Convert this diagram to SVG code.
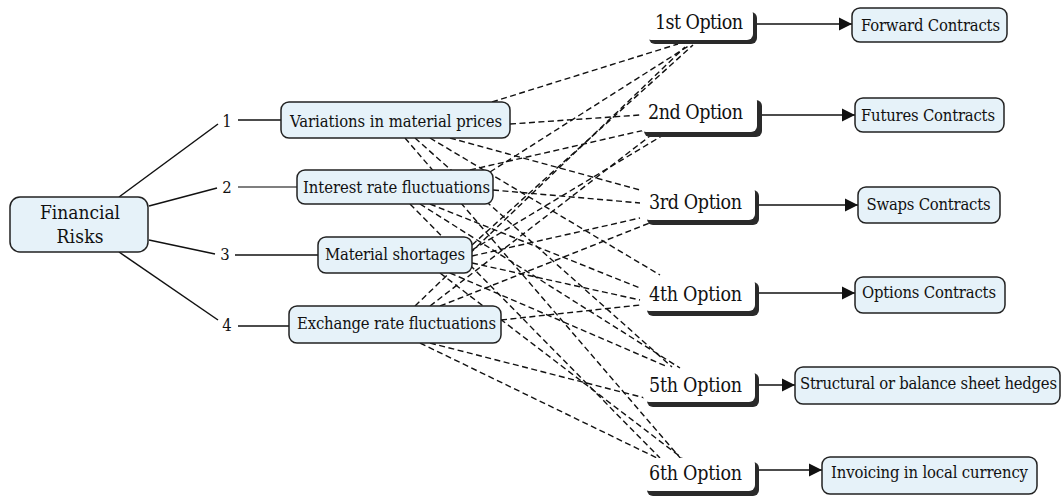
<svg xmlns="http://www.w3.org/2000/svg" width="1063" height="496" viewBox="0 0 1063 496">
<style>
.bx{fill:#e6f2f9;stroke:#222;stroke-width:1.5}
.t{font-family:"DejaVu Serif Condensed","DejaVu Serif",serif;font-stretch:condensed;font-size:16.5px;fill:#111;text-anchor:middle}
.ot{font-family:"DejaVu Serif Condensed","DejaVu Serif",serif;font-stretch:condensed;font-size:19.5px;fill:#111}
.num{font-family:"DejaVu Serif Condensed","DejaVu Serif",serif;font-stretch:condensed;font-size:16.5px;fill:#111;text-anchor:middle}
.sl{stroke:#111;stroke-width:1.5;fill:none}
.d{stroke:#111;stroke-width:1.4;stroke-dasharray:6 3.5;fill:none}
.ar{stroke:#111;stroke-width:1.5;fill:none;marker-end:url(#ah)}
.sh{fill:#2a2a2a}
.wb{fill:#fff}
</style>
<defs>
<marker id="ah" markerUnits="userSpaceOnUse" markerWidth="14" markerHeight="14" refX="13" refY="7" orient="auto">
<path d="M0,0.5 L13,7 L0,13.5 Z" fill="#111"/>
</marker>
</defs>
<g id="connectors">
<line class="sl" x1="119" y1="197" x2="218" y2="124"/>
<line class="sl" x1="149" y1="206" x2="217" y2="188"/>
<line class="sl" x1="149" y1="240" x2="215" y2="254"/>
<line class="sl" x1="119" y1="252" x2="218" y2="320"/>
<line class="sl" x1="238" y1="120" x2="281" y2="120"/>
<line class="sl" x1="238" y1="187" x2="297" y2="187" style="stroke:#555"/>
<line class="sl" x1="235" y1="255" x2="318" y2="255"/>
<line class="sl" x1="238" y1="326" x2="289" y2="326"/>
<g id="dashed">
<line class="d" x1="492" y1="102" x2="678" y2="44"/>
<line class="d" x1="510" y1="124" x2="640" y2="115"/>
<line class="d" x1="450" y1="138" x2="640" y2="190"/>
<line class="d" x1="430" y1="138" x2="660" y2="275"/>
<line class="d" x1="415" y1="138" x2="672" y2="367"/>
<line class="d" x1="405" y1="138" x2="682" y2="460"/>
<line class="d" x1="490" y1="172" x2="690" y2="45"/>
<line class="d" x1="470" y1="170" x2="645" y2="130"/>
<line class="d" x1="493" y1="190" x2="640" y2="203"/>
<line class="d" x1="430" y1="204" x2="640" y2="288"/>
<line class="d" x1="420" y1="204" x2="680" y2="368"/>
<line class="d" x1="410" y1="204" x2="660" y2="458"/>
<line class="d" x1="472" y1="245" x2="693" y2="45"/>
<line class="d" x1="472" y1="250" x2="665" y2="134"/>
<line class="d" x1="472" y1="256" x2="640" y2="218"/>
<line class="d" x1="472" y1="263" x2="640" y2="300"/>
<line class="d" x1="450" y1="273" x2="668" y2="367"/>
<line class="d" x1="440" y1="273" x2="682" y2="458"/>
<line class="d" x1="415" y1="306" x2="685" y2="47"/>
<line class="d" x1="430" y1="306" x2="650" y2="136"/>
<line class="d" x1="440" y1="306" x2="652" y2="222"/>
<line class="d" x1="501" y1="320" x2="640" y2="305"/>
<line class="d" x1="430" y1="343" x2="645" y2="398"/>
<line class="d" x1="420" y1="343" x2="657" y2="458"/>
</g>
<line class="ar" x1="757" y1="24" x2="852" y2="24"/>
<line class="ar" x1="762" y1="115" x2="855" y2="115"/>
<line class="ar" x1="759" y1="205" x2="858" y2="205"/>
<line class="ar" x1="759" y1="293" x2="855" y2="293"/>
<line class="ar" x1="759" y1="385" x2="795" y2="385"/>
<line class="ar" x1="759" y1="470" x2="822" y2="470"/>
</g>
<g id="financial-risks">
<rect class="bx" x="10" y="197" width="138" height="55" rx="10"/>
<text class="t" x="80" y="219" style="font-size:19px" textLength="80">Financial</text>
<text class="t" x="80" y="243" style="font-size:19px" textLength="47">Risks</text>
</g>
<g id="labels">
<text class="num" x="227" y="127">1</text>
<text class="num" x="227" y="193">2</text>
<text class="num" x="225" y="260">3</text>
<text class="num" x="227" y="331">4</text>
</g>
<g id="risk-1">
<rect class="bx" x="281" y="102" width="229" height="36" rx="8"/>
<text class="t" x="396" y="127" textLength="212">Variations in material prices</text>
</g>
<g id="risk-2">
<rect class="bx" x="297" y="170" width="196" height="34" rx="8"/>
<text class="t" x="396.5" y="193" textLength="187">Interest rate fluctuations</text>
</g>
<g id="risk-3">
<rect class="bx" x="318" y="237" width="154" height="36" rx="8"/>
<text class="t" x="395" y="260" textLength="140">Material shortages</text>
</g>
<g id="risk-4">
<rect class="bx" x="289" y="306" width="212" height="37" rx="8"/>
<text class="t" x="396.5" y="329" textLength="199">Exchange rate fluctuations</text>
</g>
<g id="option-1">
<rect class="sh" x="649" y="12" width="108" height="32" rx="6"/>
<rect class="wb" x="645" y="8" width="108" height="32" rx="6"/>
<text class="ot" x="655" y="29" textLength="88">1st Option</text>
</g>
<g id="option-2">
<rect class="sh" x="644" y="100" width="118" height="37" rx="6"/>
<rect class="wb" x="640" y="95" width="117" height="37" rx="6"/>
<text class="ot" x="648" y="119" textLength="95">2nd Option</text>
</g>
<g id="option-3">
<rect class="sh" x="647" y="190" width="112" height="35" rx="6"/>
<rect class="wb" x="643" y="186" width="112" height="34" rx="6"/>
<text class="ot" x="649" y="209" textLength="93">3rd Option</text>
</g>
<g id="option-4">
<rect class="sh" x="647" y="282" width="112" height="34" rx="6"/>
<rect class="wb" x="643" y="278" width="112" height="33" rx="6"/>
<text class="ot" x="649" y="301" textLength="93">4th Option</text>
</g>
<g id="option-5">
<rect class="sh" x="647" y="373" width="112" height="34" rx="6"/>
<rect class="wb" x="643" y="369" width="112" height="33" rx="6"/>
<text class="ot" x="649" y="392" textLength="93">5th Option</text>
</g>
<g id="option-6">
<rect class="sh" x="647" y="462" width="112" height="34" rx="6"/>
<rect class="wb" x="643" y="458" width="112" height="33" rx="6"/>
<text class="ot" x="649" y="480" textLength="93">6th Option</text>
</g>
<g id="hedge-1">
<rect class="bx" x="852" y="8" width="155" height="34" rx="8"/>
<text class="t" x="930.5" y="31" textLength="139">Forward Contracts</text>
</g>
<g id="hedge-2">
<rect class="bx" x="855" y="98" width="149" height="34" rx="8"/>
<text class="t" x="928" y="121" textLength="134">Futures Contracts</text>
</g>
<g id="hedge-3">
<rect class="bx" x="858" y="187" width="142" height="36" rx="8"/>
<text class="t" x="928.5" y="210" textLength="124">Swaps Contracts</text>
</g>
<g id="hedge-4">
<rect class="bx" x="855" y="277" width="150" height="36" rx="8"/>
<text class="t" x="929" y="298" textLength="134">Options Contracts</text>
</g>
<g id="hedge-5">
<rect class="bx" x="795" y="367" width="265" height="37" rx="8"/>
<text class="t" x="928.5" y="389" textLength="257">Structural or balance sheet hedges</text>
</g>
<g id="hedge-6">
<rect class="bx" x="822" y="457" width="215" height="37" rx="8"/>
<text class="t" x="929.5" y="478" textLength="197">Invoicing in local currency</text>
</g>
</svg>
